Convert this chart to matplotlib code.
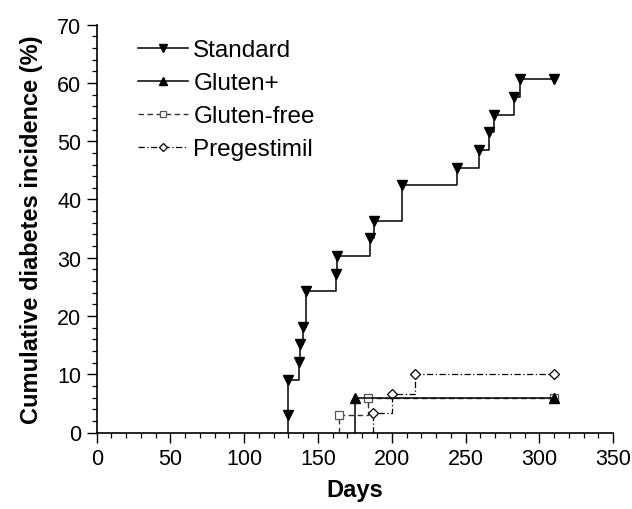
import matplotlib
matplotlib.use("Agg")
import matplotlib.pyplot as plt
from matplotlib.lines import Line2D
from matplotlib.ticker import MultipleLocator

plt.rcParams['font.family'] = ['Liberation Sans', 'DejaVu Sans']

# ---- data ----
end_day = 310
std_days = [130, 130, 137, 138, 140, 142, 162, 163, 185, 188, 207, 244, 259, 266, 269, 283, 287]
std_inc = [3.03, 9.09, 12.12, 15.15, 18.18, 24.24, 27.27, 30.30, 33.33, 36.36,
           42.42, 45.45, 48.48, 51.52, 54.55, 57.58, 60.61]
glp_days = [175]
glp_inc = [5.88]
glf_days = [164, 184]
glf_inc = [2.94, 5.88]
pre_days = [187, 200, 216]
pre_inc = [3.33, 6.67, 10.0]

labels = ['Standard', 'Gluten+', 'Gluten-free', 'Pregestimil']
x_ticks = [0, 50, 100, 150, 200, 250, 300, 350]
y_ticks = [0, 10, 20, 30, 40, 50, 60, 70]

fig = plt.figure(figsize=(6.32, 5.10), dpi=100)
ax = fig.add_axes([0.153, 0.150, 0.817, 0.7996])

series = [
    (std_days, std_inc, dict(color='black', ls='-', lw=1.1), dict(marker='v', mfc='black', mec='black', ms=7.5)),
    (glp_days, glp_inc, dict(color='black', ls='-', lw=1.1), dict(marker='^', mfc='black', mec='black', ms=7.5)),
    (glf_days, glf_inc, dict(color='#333333', ls=(0, (4, 2.5)), lw=1.0), dict(marker='s', mfc='white', mec='#555555', ms=6, mew=0.9)),
    (pre_days, pre_inc, dict(color='black', ls=(0, (5, 2, 1, 2)), lw=0.9), dict(marker='D', mfc='white', mec='black', ms=5.5, mew=0.9)),
]

# z-order: Gluten+ drawn on top of Gluten-free
zorders = {0: 4, 1: 5, 2: 2, 3: 3}
for i, (days, inc, lstyle, mstyle) in enumerate(series):
    xs = [days[0]] + days + [end_day]
    ys = [0] + inc + [inc[-1]]
    ax.plot(xs, ys, drawstyle='steps-post', zorder=zorders[i], **lstyle)
    ax.plot(days + [end_day], inc + [inc[-1]], ls='none', zorder=zorders[i] + 0.5, **mstyle)

handles = []
for days, inc, lstyle, mstyle in series:
    ms = dict(mstyle)
    ms['ms'] = ms['ms'] * 0.72
    handles.append(Line2D([], [], **lstyle, **ms))
ax.legend(handles, labels, loc='upper left', bbox_to_anchor=(0.052, 1.0), frameon=False,
          fontsize=17.5, handlelength=2.05, handletextpad=0.22, labelspacing=0.45,
          borderaxespad=0.2)

ax.set_xlim(0, 350)
ax.set_ylim(0, 70)
ax.set_xticks(x_ticks)
ax.set_yticks(y_ticks)
ax.xaxis.set_minor_locator(MultipleLocator(10))
ax.yaxis.set_minor_locator(MultipleLocator(2))
ax.tick_params(which='major', direction='out', length=7, width=1.0, labelsize=15.5, pad=4)
ax.tick_params(which='minor', direction='out', length=3.5, width=0.9)
for s in ['top', 'right']:
    ax.spines[s].set_visible(False)
for s in ['left', 'bottom']:
    ax.spines[s].set_linewidth(1.2)

ax.set_xlabel('Days', fontsize=17, fontweight='bold', labelpad=7)
ax.set_ylabel('Cumulative diabetes incidence (%)', fontsize=17, fontweight='bold', labelpad=10)

fig.savefig('out.png', dpi=100)
